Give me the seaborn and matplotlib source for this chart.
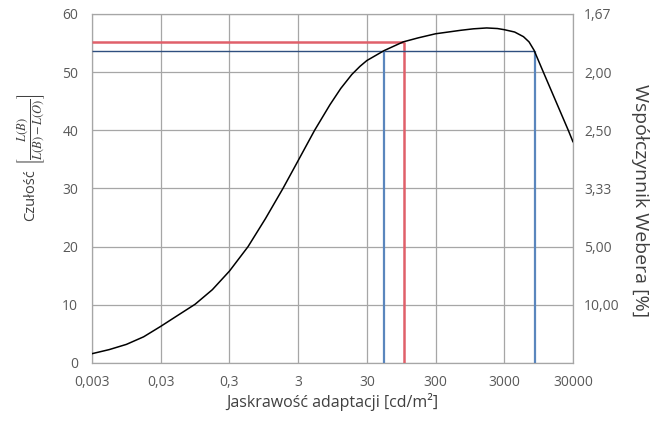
import numpy as np
import pandas as pd
import matplotlib
matplotlib.use("Agg")
import matplotlib.pyplot as plt
import seaborn as sns

# krzywa czułości oka
luminance = [0.003, 0.00533, 0.0095, 0.0169, 0.03, 0.0533, 0.0949, 0.169, 0.3,
             0.559, 1.0, 1.8, 3.0, 5.2, 8.7, 12.5, 18.1, 23.8, 30, 53.3, 101,
             168, 300, 700, 1064, 1660, 2383, 3000, 4240, 5700, 6870, 8100,
             11100, 25600, 30000]
sensitivity = [1.6, 2.3, 3.2, 4.5, 6.3, 8.2, 10.1, 12.6, 15.8,
               20.0, 24.8, 30.0, 34.8, 40.0, 44.4, 47.2, 49.6, 51.0, 52.0, 53.7, 55.2,
               55.9, 56.6, 57.2, 57.45, 57.6, 57.5, 57.3, 56.9, 56.1, 55.2, 53.8,
               50.0, 40.0, 38.0]

x_ticks = [0.003, 0.03, 0.3, 3, 30, 300, 3000, 30000]
x_labels = ['0,003', '0,03', '0,3', '3', '30', '300', '3000', '30000']
y_ticks = [0, 10, 20, 30, 40, 50, 60]
weber_ticks = [10, 20, 30, 40, 50, 60]
weber_labels = ['10,00', '5,00', '3,33', '2,50', '2,00', '1,67']

# linie pomocnicze
red_x, red_y = 104, 55.2
blue_x = [53.3, 8300]
blue_y = 53.7

df = pd.DataFrame({'L': luminance, 'S': sensitivity})

sns.set_theme(style="whitegrid")
plt.rcParams['font.family'] = ['Open Sans', 'DejaVu Sans']
plt.rcParams['mathtext.fontset'] = 'stix'

grid_c = '#a6a6a6'
tick_c = '#595959'
label_c = '#404040'

fig, ax = plt.subplots(figsize=(6.64, 4.24), dpi=100)
fig.subplots_adjust(left=0.1386, right=0.863, top=0.967, bottom=0.1439)

ax.set_xscale('log')
ax.set_xlim(x_ticks[0], x_ticks[-1])
ax.set_ylim(0, 60)

# linie pomocnicze: czerwona i niebieskie
ax.hlines(red_y, x_ticks[0], red_x, color='#e0606a', lw=1.8, zorder=3)
ax.vlines(red_x, 0, red_y, color='#e0606a', lw=1.8, zorder=3)
ax.hlines(blue_y, x_ticks[0], blue_x[1], color='#2f4f7f', lw=1.0, zorder=3)
ax.vlines(blue_x, 0, blue_y, color='#5a86bd', lw=1.6, zorder=3)

sns.lineplot(data=df, x='L', y='S', ax=ax, color='black', linewidth=1.1, zorder=4)

ax.set_xticks(x_ticks)
ax.set_xticklabels(x_labels)
ax.xaxis.set_minor_locator(matplotlib.ticker.NullLocator())
ax.set_yticks(y_ticks)
ax.grid(True, color=grid_c, linewidth=0.9)
ax.tick_params(axis='both', length=0, labelsize=10, labelcolor=tick_c)
ax.tick_params(axis='x', pad=9)
ax.tick_params(axis='y', pad=10)
for s in ax.spines.values():
    s.set_color(grid_c)
    s.set_linewidth(0.9)

ax.set_xlabel('Jaskrawość adaptacji [cd/m²]', fontsize=11.5, color=label_c, va='center')
ax.xaxis.set_label_coords(0.5, -0.112)

# lewa oś: tekst + ułamek osobno
ax.set_ylabel('Czułość', fontsize=10.5, color=label_c, va='center', ha='center')
ax.yaxis.set_label_coords(-0.127, 0.48)
ax.text(-0.127, 0.67, r'$\left[\dfrac{L(B)}{L(B)-L(O)}\right]$', transform=ax.transAxes,
        rotation=90, fontsize=9, color=label_c, ha='center', va='center')

ax2 = ax.twinx()
ax2.set_ylim(0, 60)
ax2.set_yticks(weber_ticks)
ax2.set_yticklabels(weber_labels)
ax2.grid(False)
ax2.tick_params(axis='y', length=0, labelsize=10, labelcolor=tick_c, pad=8)
for s in ax2.spines.values():
    s.set_visible(False)
ax2.set_ylabel('Współczynnik Webera [%]', fontsize=14, color=label_c,
               rotation=270, va='center', ha='center')
ax2.yaxis.set_label_coords(1.139, 0.464)

plt.savefig('out.png', dpi=100)
